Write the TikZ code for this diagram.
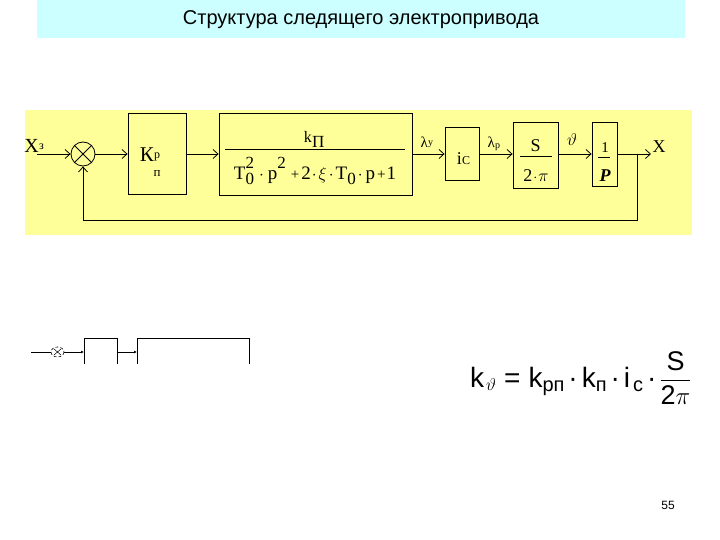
\documentclass[tikz,border=0pt]{standalone}
\usepackage{fontspec}
\usepackage{amsmath}
\setmainfont{Liberation Serif}
\newfontfamily\arialfont{Liberation Sans}
\usetikzlibrary{positioning, arrows.meta}
\definecolor{titlecyan}{RGB}{204,255,255}
\definecolor{bandyellow}{RGB}{255,255,153}

\newcommand{\fsz}[1]{\fontsize{#1}{#1}\selectfont}
\newcommand{\supsub}[2]{\rlap{\raisebox{11pt}{\fsz{17}#1}}\raisebox{-5pt}{\fsz{17}#2}}

\tikzset{
  blok/.style={draw, thick, fill=bandyellow, inner sep=0pt},
  sig/.style={-{Straight Barb[length=5pt,width=9pt]}, thick},
  thin sig/.style={-{Latex[length=3pt,width=3pt]}, line width=0.6pt},
  lbl/.style={inner sep=0pt},
}

\begin{document}
\begin{tikzpicture}[x=1pt, y=-1pt]
        \useasboundingbox (0,0) rectangle (720,540);

        % Title
        \fill[titlecyan] (37,0) rectangle (685,38);
        \node[font=\arialfont\fsz{20}] (title) at (361,20) {Структура следящего электропривода};

        % Band
        \fill[bandyellow] (25,110) rectangle (692,235);

        % Blocks
        \node[draw, thick, circle, minimum size=24, inner sep=0pt] (sum) at (83,154) {};
        \draw[thick] (sum.north east) -- (sum.south west) (sum.north west) -- (sum.south east);
        \node[blok, minimum width=58, minimum height=81] (kp) at (157,153.5) {};
        \node[blok, minimum width=193, minimum height=82] (wo) at (315.5,154) {};
        \node[blok, minimum width=34, minimum height=53] (ic) at (462,154) {};
        \node[blok, minimum width=45, minimum height=66] (sp) at (535.5,155) {};
        \node[blok, minimum width=25, minimum height=64] (integ) at (604.5,154) {};

        % Block texts
        \node[lbl, font=\fsz{21}, anchor=base east] (kk) at (154,162) {К};
        \node[lbl, font=\fsz{12}, anchor=base west] at (kk.base east) {\raisebox{3pt}{р}};
        \node[lbl, font=\fsz{13}] at (157,174) {п};

        \node[lbl, font=\fsz{16}, anchor=base east] (kpi) at (312,143) {k};
        \node[lbl, font=\fsz{17}, anchor=base west] at (312,148) {П};
        \draw[thin] (225,149) -- (405,149);
        \node[lbl, font=\fsz{19}, anchor=base] at (315,180)
          {T\supsub{2}{0}\hspace{5pt}\fsz{16}$\cdot$\hspace{4pt}\fsz{19}p\raisebox{11pt}{\fsz{17}2}\hspace{5pt}{\fsz{15}+}\hspace{2pt}2\hspace{1pt}{\fsz{16}$\cdot$}\hspace{2pt}$\xi$\hspace{2pt}{\fsz{16}$\cdot$}\hspace{2pt}T\raisebox{-5pt}{\fsz{17}0}\hspace{2pt}{\fsz{16}$\cdot$}\hspace{3pt}p\hspace{2pt}{\fsz{15}+}\hspace{1pt}1};

        \node[lbl, font=\fsz{18}, anchor=base east] (ii) at (462,165) {i};
        \node[lbl, font=\fsz{12}, anchor=base west] at (ii.base east) {С};

        \node[lbl, font=\fsz{18}] at (535.5,146) {S};
        \draw[thin] (520,156) -- (552,156);
        \node[lbl, font=\fsz{18}] at (536,176) {2\hspace{1pt}{\fsz{14}$\cdot$}\hspace{1pt}$\pi$};

        \node[lbl, font=\fsz{15}] at (605,148) {1};
        \draw[thin] (598,157) -- (610,157);
        \node[lbl, font=\bfseries\itshape\fsz{18}] at (605,176) {P};

        % Signal labels
        \node[lbl, font=\fsz{20}, anchor=base east] (xz) at (39,153) {X};
        \node[lbl, font=\fsz{12}, anchor=base west] at (xz.base east) {\raisebox{3pt}{з}};
        \node[lbl, font=\fsz{15}, anchor=base east] (ly) at (428,148) {λ};
        \node[lbl, font=\fsz{10}, anchor=base west] at (ly.base east) {\raisebox{2pt}{у}};
        \node[lbl, font=\fsz{15}, anchor=base east] (lp) at (495,148) {λ};
        \node[lbl, font=\fsz{10}, anchor=base west] at (lp.base east) {\raisebox{-1pt}{р}};
        \node[lbl, font=\fsz{17}] (th) at (572,140) {$\vartheta$};
        \node[lbl, font=\fsz{18}] (xout) at (659,147) {X};

        % Connections
        \coordinate (in) at (37,154);
        \coordinate (out) at (651,154);
        \coordinate (fb) at (637,154);
        \draw[sig] (in) -- (sum.west);
        \draw[sig] (sum.east) -- (kp.west |- sum.east);
        \draw[sig] (kp.east |- sum.east) -- (wo.west |- sum.east);
        \draw[sig] (wo.east |- sum.east) -- (ic.west |- sum.east);
        \draw[sig] (ic.east |- sum.east) -- (sp.west |- sum.east);
        \draw[sig] (sp.east |- sum.east) -- (integ.west |- sum.east);
        \draw[sig] (integ.east |- sum.east) -- (out);
        \draw[sig] (fb) -- (637,220) -- (83,220) -- (sum.south);

        % Fragment
        \draw[line width=0.6pt] (31,352) -- (51,352);
        \draw[densely dashed, line width=0.6pt] (57.5,352) ellipse (6.5 and 5);
        \draw[line width=0.5pt] (54,355) -- (61,349) (54,349) -- (61,355);
        \draw[thin sig] (64,352) -- (84,352);
        \draw[line width=0.6pt] (84,364) -- (84,338) -- (117,338) -- (117,364);
        \draw[thin sig] (117,352) -- (137,352);
        \draw[line width=0.6pt] (137,364) -- (137,338) -- (249,338) -- (249,364);

        % Formula
        \node[lbl, font=\arialfont\fsz{28}, anchor=base west] (kform) at (470,387)
          {k\hspace{2pt}\raisebox{-3pt}{\fsz{17}$\vartheta$}\hspace{8pt}=\hspace{8pt}k\raisebox{-4pt}{\fsz{20}рп}\hspace{4pt}·\hspace{4pt}k\raisebox{-4pt}{\fsz{20}п}\hspace{4pt}·\hspace{4pt}i\hspace{3pt}\raisebox{-4pt}{\fsz{20}c}\hspace{4pt}·\hspace{3pt}{\fsz{27}$\dfrac{\text{S}}{\text{2}\pi}$}};

        % Page number
        \node[font=\arialfont\fsz{12}] (pg) at (668,505) {55};
    \end{tikzpicture}
\end{document}
